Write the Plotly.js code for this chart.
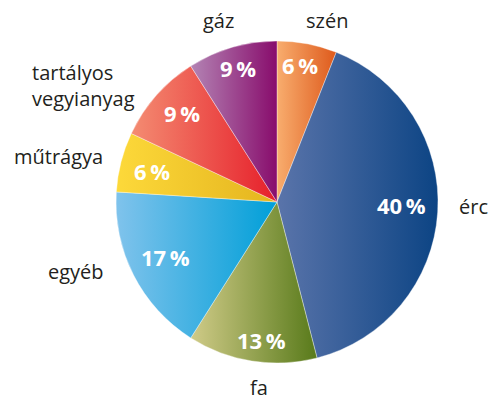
<!DOCTYPE html>
<html><head><meta charset="utf-8">
<script src="https://cdn.plot.ly/plotly-3.0.1.min.js"></script>
<style>body{margin:0;background:#fff}#c{width:492px;height:401px}</style>
</head><body><div id="c"></div>
<script>
const categories = ["szén", "érc", "fa", "egyéb", "műtrágya", "tartályos<br>vegyianyag", "gáz"];
const values = [6, 40, 13, 17, 6, 9, 9];
const gradLight = ["#F8AD6E", "#5A74AA", "#D0CB88", "#80C3EC", "#FDD93A", "#F48C72", "#B384B4"];
const gradDark  = ["#DE5A1C", "#0C4484", "#587A1A", "#009FD8", "#E4B41E", "#E61E2A", "#880C6C"];
const labelPos = [[327, 21], [473, 206], [259, 387], [76, 271], [58, 156], [31, 86], [218, 21]];
const pctPos = [[300, 65], [401, 205], [261, 340], [165, 257], [152, 171], [182, 113], [238, 68]];

const W = 492, H = 401;
const trace = {
  type: "pie", values: values, labels: categories, sort: false, direction: "clockwise", rotation: 0,
  marker: {colors: gradDark, line: {color: "rgba(255,255,255,0.6)", width: 0.6}},
  textinfo: "none",
  domain: {x: [116 / W, 438 / W], y: [(H - 363) / H, (H - 41) / H]},
  hoverinfo: "none", showlegend: false
};
const annotations = [];
categories.forEach((c, i) => {
  const multi = c.indexOf("<br>") >= 0;
  annotations.push({
    text: c, xref: "paper", yref: "paper",
    x: labelPos[i][0] / W, y: 1 - labelPos[i][1] / H,
    showarrow: false, xanchor: multi ? "left" : "center", yanchor: "middle", align: "left",
    borderpad: 0,
    font: {family: "Open Sans, sans-serif", size: 20, color: "#231F20"}
  });
  annotations.push({
    text: values[i] + "\u2009%", xref: "paper", yref: "paper",
    x: pctPos[i][0] / W, y: 1 - pctPos[i][1] / H,
    showarrow: false, xanchor: "center", yanchor: "middle",
    font: {family: "Open Sans, sans-serif", size: 22, color: "#fff", weight: 700}
  });
});
const layout = {width: W, height: H, margin: {l: 0, r: 0, t: 0, b: 0}, paper_bgcolor: "#fff",
  annotations: annotations, showlegend: false};
Plotly.newPlot("c", [trace], layout, {displayModeBar: false, staticPlot: true}).then(() => {
  const svg = document.querySelector("#c svg.main-svg");
  const ns = "http://www.w3.org/2000/svg";
  let defs = svg.querySelector("defs");
  if (!defs) { defs = document.createElementNS(ns, "defs"); svg.prepend(defs); }
  document.querySelectorAll("#c .slice path.surface").forEach((p, i) => {
    const g = document.createElementNS(ns, "linearGradient");
    g.setAttribute("id", "sg" + i);
    g.setAttribute("x1", "0"); g.setAttribute("y1", "0"); g.setAttribute("x2", "1"); g.setAttribute("y2", "0");
    [[0, gradLight[i]], [1, gradDark[i]]].forEach(([o, col]) => {
      const s = document.createElementNS(ns, "stop");
      s.setAttribute("offset", o); s.setAttribute("stop-color", col); g.appendChild(s);
    });
    defs.appendChild(g);
    p.style.fill = "url(#sg" + i + ")";
  });
});
</script></body></html>
